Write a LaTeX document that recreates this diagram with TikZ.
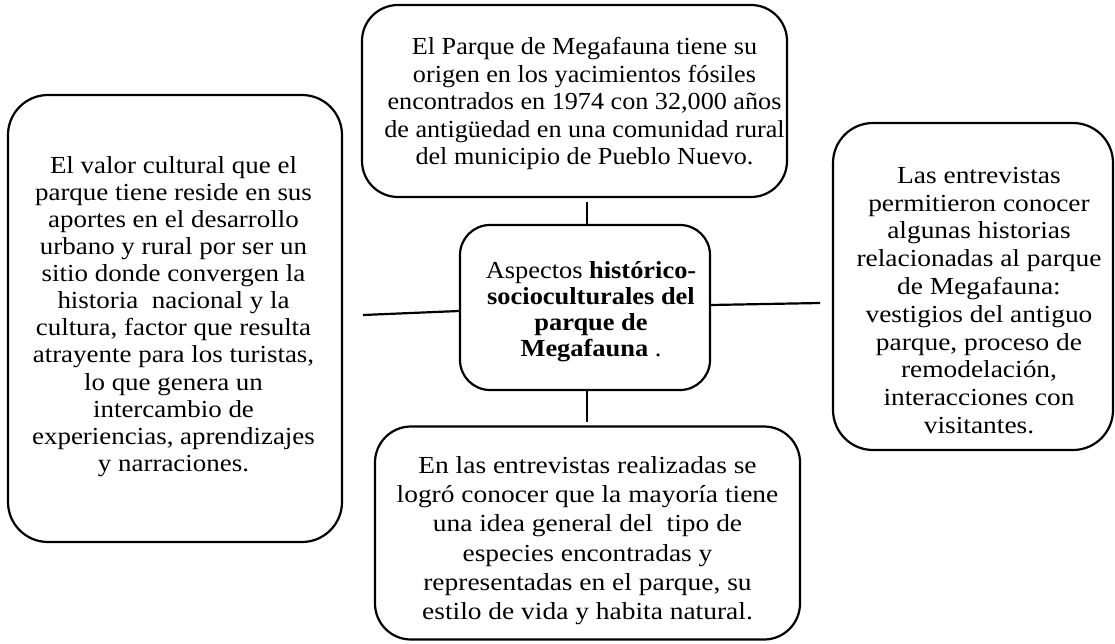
\documentclass[tikz,border=0pt]{standalone}
\usepackage{fontspec}
\usepackage{graphicx}
\setmainfont[FakeStretch=1.1]{Liberation Serif}
\newcommand\mylines[2]{\scalebox{#1}[1]{\begin{tabular}[t]{@{}c@{}}#2\end{tabular}}}
\begin{document}
\begin{tikzpicture}[x=1pt,y=-1pt,
  box/.style={draw, line width=2.2pt, rounded corners=#1, inner sep=0pt},
  box/.default=38pt,
  txt/.style={inner sep=0pt, anchor=base, font=\fontsize{24.5}{#1}\selectfont},
  link/.style={line width=2.2pt}]
\useasboundingbox (0,0) rectangle (1115,644);
% boxes
\node[box=40pt, minimum width=334pt, minimum height=447pt] (L) at (175,318.5) {};
\node[box=36pt, minimum width=425pt, minimum height=192pt] (T) at (574.5,101) {};
\node[box=30pt, minimum width=250pt, minimum height=165pt] (C) at (585,307.5) {};
\node[box=40pt, minimum width=280pt, minimum height=327pt] (R) at (973,286.5) {};
\node[box=36pt, minimum width=425pt, minimum height=213pt] (B) at (587.5,533) {};
% texts
\node[txt=27.1] (Lt) at (173.5,173.3) {\mylines{1.0}{El valor cultural que el\\parque tiene reside en sus\\aportes en el desarrollo\\urbano y rural por ser un\\sitio donde convergen la\\historia\ \ nacional y la\\cultura, factor que resulta\\atrayente para los turistas,\\lo que genera un\\intercambio de\\experiencias, aprendizajes\\y narraciones.}};
\node[txt=27.5] (Tt) at (584.5,55) {\mylines{0.971}{El Parque de Megafauna tiene su\\origen en los yacimientos fósiles\\encontrados en 1974 con 32,000 años\\de antigüedad en una comunidad rural\\del municipio de Pueblo Nuevo.}};
\node[txt=26.2] (Ct) at (591,278) {\mylines{0.98}{Aspectos \textbf{histórico-}\\\textbf{socioculturales del}\\\textbf{parque de}\\\textbf{Megafauna} .}};
\node[txt=27.8] (Rt) at (979,183.3) {\mylines{1.017}{Las entrevistas\\permitieron conocer\\algunas historias\\relacionadas al parque\\de Megafauna:\\vestigios del antiguo\\parque, proceso de\\remodelación,\\interacciones con\\visitantes.}};
\node[txt=29.3] (Bt) at (587.5,473.3) {\mylines{1.018}{En las entrevistas realizadas se\\logró conocer que la mayoría tiene\\una idea general del\ \ tipo de\\especies encontradas y\\representadas en el parque, su\\estilo de vida y habita natural.}};
% connectors
\coordinate (tc) at (587,202);
\coordinate (bc) at (587,422);
\coordinate (lc) at (363,315);
\coordinate (rc) at (820,303);
\draw[link] (tc) -- (tc |- C.north);
\draw[link] (C.south -| bc) -- (bc);
\draw[link] (lc) -- ([yshift=-3.5pt]C.west);
\draw[link] ([yshift=2.5pt]C.east) -- (rc);
\end{tikzpicture}
\end{document}
